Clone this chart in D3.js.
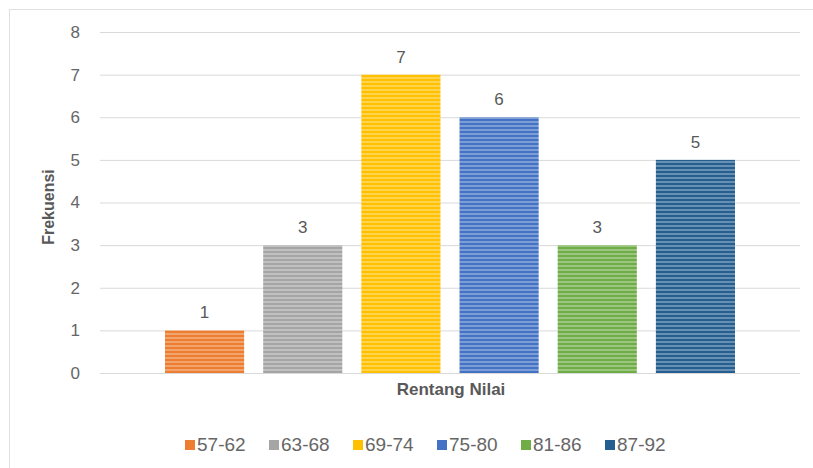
<!DOCTYPE html>
<html>
<head>
<meta charset="utf-8">
<script src="https://cdn.jsdelivr.net/npm/d3@7"></script>
<style>
  body { margin: 0; background: #fff; }
  text { font-family: "Liberation Sans", Arial, sans-serif; }
</style>
</head>
<body>
<section></section>
<script>
"use strict";

// chart data
const ranges = ["57-62", "63-68", "69-74", "75-80", "81-86", "87-92"];
const counts = [1, 3, 7, 6, 3, 5];
const yTicks = [0, 1, 2, 3, 4, 5, 6, 7, 8];
const colors = ["#ed7d31", "#a5a5a5", "#ffc000", "#4472c4", "#70ad47", "#255e91"];

const w = 813;
const h = 468;

const svg = d3.select("section").append("svg").attr("width", w).attr("height", h);

// chart frame
svg.append("rect")
  .attr("x", 9.5).attr("y", 9.5)
  .attr("width", w + 20).attr("height", h + 20)
  .attr("fill", "#fff")
  .attr("stroke", "#e0e0e0");

// striped fills, like the office texture
const defs = svg.append("defs");
colors.forEach((c, i) => {
  const p = defs.append("pattern")
    .attr("id", "stripe" + i)
    .attr("patternUnits", "userSpaceOnUse")
    .attr("width", 8).attr("height", 4);
  p.append("rect").attr("width", 8).attr("height", 4).attr("fill", c);
  p.append("rect").attr("y", 1).attr("width", 8).attr("height", 2)
    .attr("fill", "#fff").attr("opacity", 0.3);
});

const yScale = d3.scaleLinear().domain([0, 8]).range([373, 32]);

const xScale = d3.scaleBand()
  .domain(ranges)
  .range([165, 735])
  .paddingInner(0.194)
  .paddingOuter(0);

// gridlines + tick labels
const yAxis = d3.axisLeft(yScale)
  .tickValues(yTicks)
  .tickSize(-700)
  .tickFormat(d3.format("d"));

svg.append("g")
  .attr("transform", "translate(100, 0)")
  .call(yAxis)
  .call((g) => g.select(".domain").remove())
  .call((g) => g.selectAll(".tick line").attr("stroke", "#d9d9d9"))
  .call((g) => g.selectAll(".tick text")
    .attr("x", -20)
    .attr("fill", "#666")
    .attr("font-size", 17)
    .attr("font-family", "Liberation Sans, Arial, sans-serif"));

// bars
svg.append("g")
  .selectAll("rect")
  .data(ranges)
  .enter()
  .append("rect")
  .attr("x", (d) => xScale(d))
  .attr("y", (d, i) => yScale(counts[i]))
  .attr("width", xScale.bandwidth())
  .attr("height", (d, i) => yScale(0) - yScale(counts[i]))
  .attr("fill", (d, i) => `url(#stripe${i})`);

// data labels
svg.append("g")
  .selectAll("text")
  .data(ranges)
  .enter()
  .append("text")
  .attr("x", (d) => xScale(d) + xScale.bandwidth() / 2)
  .attr("y", (d, i) => yScale(counts[i]) - 12)
  .attr("text-anchor", "middle")
  .attr("fill", "#595959")
  .attr("font-size", 17)
  .text((d, i) => counts[i]);

// axis titles
svg.append("text")
  .attr("transform", "translate(54, 207) rotate(-90)")
  .attr("text-anchor", "middle")
  .attr("font-weight", "bold")
  .attr("font-size", 16)
  .attr("fill", "#595959")
  .text("Frekuensi");

svg.append("text")
  .attr("x", 451)
  .attr("y", 395)
  .attr("text-anchor", "middle")
  .attr("font-weight", "bold")
  .attr("font-size", 17)
  .attr("fill", "#595959")
  .text("Rentang Nilai");

// legend
const legendStep = 84;
const legend = svg.append("g").attr("transform", "translate(185, 445)");
const item = legend.selectAll("g")
  .data(ranges)
  .enter()
  .append("g")
  .attr("transform", (d, i) => `translate(${i * legendStep}, 0)`);

item.append("rect")
  .attr("x", 0).attr("y", -5)
  .attr("width", 10).attr("height", 10)
  .attr("fill", (d, i) => colors[i]);

item.append("text")
  .attr("x", 12)
  .attr("y", 6)
  .attr("fill", "#666")
  .attr("font-size", 19)
  .text((d) => d);
</script>
</body>
</html>
